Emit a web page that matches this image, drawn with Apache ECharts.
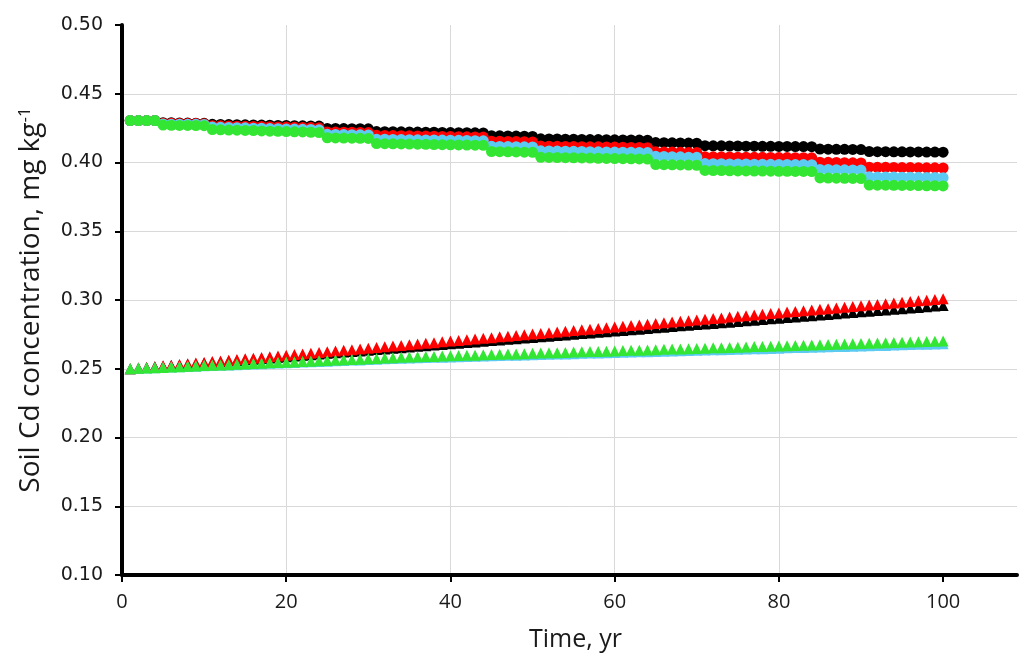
<!DOCTYPE html>
<html><head><meta charset="utf-8">
<script src="https://cdn.jsdelivr.net/npm/echarts@6/dist/echarts.min.js"></script>
<style>html,body{margin:0;padding:0;background:#fff}#c{width:1019px;height:657px}</style>
</head><body><div id="c"></div>
<script>
// Years 1..100
var years = [];
for (var i = 1; i <= 100; i++) years.push(i);

var yTicks = [0.10,0.15,0.20,0.25,0.30,0.35,0.40,0.45,0.50];
var xTicks = [0,20,40,60,80,100];

// Circle series
var blackCircle = [0.4305,0.4305,0.4305,0.4305,
0.4290,0.4289,0.4288,0.4287,0.4286,0.4285,
0.4278,0.4277,0.4276,0.4275,0.4274,0.4273,0.4272,0.4271,0.4270,0.4269,0.4268,0.4267,0.4266,0.4265,
0.4248,0.4248,0.4247,0.4246,0.4246,0.4245,
0.4225,0.4224,0.4224,0.4223,0.4222,0.4221,0.4220,0.4220,0.4219,0.4218,0.4217,0.4217,0.4216,0.4215,
0.4195,0.4194,0.4193,0.4192,0.4191,0.4190,
0.4172,0.4171,0.4171,0.4170,0.4169,0.4168,0.4167,0.4167,0.4166,0.4165,0.4164,0.4164,0.4163,0.4162,
0.4145,0.4144,0.4143,0.4142,0.4141,0.4140,
0.4122,0.4121,0.4121,0.4120,0.4120,0.4119,0.4119,0.4118,0.4118,0.4117,0.4117,0.4116,0.4116,0.4115,
0.4098,0.4097,0.4096,0.4096,0.4095,0.4094,
0.4080,0.4079,0.4079,0.4078,0.4078,0.4077,0.4077,0.4076,0.4076,0.4075];

var redCircle = [0.4305,0.4305,0.4305,0.4305,
0.4285,0.4285,0.4284,0.4283,0.4283,0.4282,
0.4268,0.4267,0.4266,0.4264,0.4263,0.4262,0.4261,0.4260,0.4259,0.4258,0.4256,0.4255,0.4254,0.4252,
0.4222,0.4221,0.4220,0.4220,0.4219,0.4218,
0.4198,0.4197,0.4196,0.4195,0.4194,0.4193,0.4192,0.4191,0.4190,0.4189,0.4188,0.4187,0.4186,0.4185,
0.4155,0.4154,0.4153,0.4152,0.4151,0.4150,
0.4120,0.4119,0.4118,0.4117,0.4116,0.4115,0.4114,0.4114,0.4113,0.4112,0.4111,0.4110,0.4109,0.4108,
0.4078,0.4077,0.4076,0.4074,0.4073,0.4072,
0.4042,0.4041,0.4041,0.4040,0.4039,0.4039,0.4038,0.4038,0.4037,0.4036,0.4036,0.4035,0.4035,0.4034,
0.4002,0.4001,0.4000,0.3999,0.3998,0.3997,
0.3966,0.3965,0.3965,0.3964,0.3963,0.3963,0.3962,0.3961,0.3961,0.3960];

var cyanCircle = [0.4305,0.4305,0.4305,0.4305,
0.4280,0.4279,0.4279,0.4278,0.4278,0.4277,
0.4258,0.4256,0.4255,0.4253,0.4252,0.4250,0.4249,0.4247,0.4246,0.4244,0.4243,0.4241,0.4240,0.4238,
0.4205,0.4204,0.4203,0.4202,0.4201,0.4200,
0.4170,0.4169,0.4168,0.4167,0.4166,0.4165,0.4164,0.4164,0.4163,0.4162,0.4161,0.4160,0.4159,0.4158,
0.4118,0.4117,0.4116,0.4115,0.4114,0.4113,
0.4085,0.4084,0.4083,0.4082,0.4081,0.4080,0.4079,0.4078,0.4077,0.4076,0.4075,0.4074,0.4073,0.4072,
0.4045,0.4044,0.4042,0.4041,0.4039,0.4038,
0.3992,0.3991,0.3991,0.3990,0.3989,0.3989,0.3988,0.3988,0.3987,0.3986,0.3986,0.3985,0.3985,0.3984,
0.3950,0.3949,0.3948,0.3947,0.3946,0.3945,
0.3896,0.3895,0.3895,0.3894,0.3893,0.3893,0.3892,0.3891,0.3891,0.3890];

var greenCircle = [0.4305,0.4305,0.4305,0.4305,
0.4272,0.4271,0.4270,0.4270,0.4269,0.4268,
0.4240,0.4238,0.4236,0.4235,0.4233,0.4232,0.4230,0.4228,0.4227,0.4225,0.4223,0.4222,0.4220,0.4218,
0.4180,0.4179,0.4178,0.4177,0.4176,0.4175,
0.4138,0.4137,0.4136,0.4135,0.4134,0.4133,0.4132,0.4131,0.4130,0.4129,0.4128,0.4127,0.4126,0.4125,
0.4080,0.4079,0.4078,0.4077,0.4075,0.4074,
0.4038,0.4037,0.4036,0.4035,0.4034,0.4033,0.4032,0.4031,0.4030,0.4029,0.4028,0.4027,0.4026,0.4025,
0.3985,0.3984,0.3983,0.3982,0.3981,0.3980,
0.3942,0.3941,0.3941,0.3940,0.3939,0.3939,0.3938,0.3938,0.3937,0.3936,0.3936,0.3935,0.3935,0.3934,
0.3888,0.3887,0.3886,0.3885,0.3884,0.3883,
0.3836,0.3835,0.3835,0.3834,0.3833,0.3833,0.3832,0.3831,0.3831,0.3830];

// Triangle series
var blackTri = [0.2500,0.2505,0.2509,0.2514,0.2519,0.2523,0.2528,0.2533,0.2537,0.2542,
0.2547,0.2551,0.2556,0.2560,0.2565,0.2570,0.2574,0.2579,0.2584,0.2588,
0.2593,0.2598,0.2602,0.2607,0.2612,0.2616,0.2621,0.2626,0.2630,0.2635,
0.2640,0.2644,0.2649,0.2653,0.2658,0.2663,0.2667,0.2672,0.2677,0.2681,
0.2686,0.2691,0.2695,0.2700,0.2705,0.2709,0.2714,0.2719,0.2723,0.2728,
0.2733,0.2737,0.2742,0.2746,0.2751,0.2756,0.2760,0.2765,0.2770,0.2774,
0.2779,0.2784,0.2788,0.2793,0.2798,0.2802,0.2807,0.2812,0.2816,0.2821,
0.2826,0.2830,0.2835,0.2839,0.2844,0.2849,0.2853,0.2858,0.2863,0.2867,
0.2872,0.2877,0.2881,0.2886,0.2891,0.2895,0.2900,0.2905,0.2909,0.2914,
0.2919,0.2923,0.2928,0.2932,0.2937,0.2942,0.2946,0.2951,0.2956,0.2960];

var redTri = [0.2500,0.2505,0.2510,0.2515,0.2521,0.2526,0.2531,0.2536,0.2541,0.2546,
0.2552,0.2557,0.2562,0.2567,0.2572,0.2577,0.2582,0.2588,0.2593,0.2598,
0.2603,0.2608,0.2613,0.2618,0.2624,0.2629,0.2634,0.2639,0.2644,0.2649,
0.2654,0.2660,0.2665,0.2670,0.2675,0.2680,0.2685,0.2690,0.2696,0.2701,
0.2706,0.2711,0.2716,0.2721,0.2726,0.2732,0.2737,0.2742,0.2747,0.2752,
0.2757,0.2762,0.2768,0.2773,0.2778,0.2783,0.2788,0.2793,0.2798,0.2804,
0.2809,0.2814,0.2819,0.2824,0.2829,0.2834,0.2840,0.2845,0.2850,0.2855,
0.2860,0.2865,0.2870,0.2876,0.2881,0.2886,0.2891,0.2896,0.2901,0.2906,
0.2912,0.2917,0.2922,0.2927,0.2932,0.2937,0.2942,0.2948,0.2953,0.2958,
0.2963,0.2968,0.2973,0.2978,0.2984,0.2989,0.2994,0.2999,0.3004,0.3009];

var cyanTri = [0.2500,0.2503,0.2505,0.2507,0.2509,0.2512,0.2514,0.2517,0.2518,0.2521,
0.2523,0.2526,0.2528,0.2530,0.2532,0.2535,0.2537,0.2540,0.2541,0.2544,
0.2546,0.2549,0.2551,0.2553,0.2555,0.2558,0.2560,0.2563,0.2564,0.2567,
0.2569,0.2572,0.2574,0.2576,0.2578,0.2580,0.2582,0.2583,0.2584,0.2586,
0.2588,0.2590,0.2591,0.2592,0.2594,0.2596,0.2598,0.2599,0.2600,0.2602,
0.2604,0.2606,0.2607,0.2608,0.2610,0.2612,0.2614,0.2615,0.2616,0.2618,
0.2620,0.2622,0.2623,0.2624,0.2626,0.2628,0.2630,0.2631,0.2632,0.2634,
0.2636,0.2638,0.2638,0.2640,0.2642,0.2644,0.2646,0.2646,0.2648,0.2650,
0.2652,0.2654,0.2654,0.2656,0.2658,0.2660,0.2662,0.2662,0.2664,0.2666,
0.2668,0.2670,0.2670,0.2672,0.2674,0.2676,0.2678,0.2678,0.2680,0.2682];

var greenTri = [0.2500,0.2503,0.2505,0.2508,0.2510,0.2513,0.2515,0.2518,0.2520,0.2523,
0.2525,0.2528,0.2530,0.2533,0.2535,0.2538,0.2540,0.2543,0.2545,0.2548,
0.2550,0.2553,0.2555,0.2558,0.2560,0.2563,0.2565,0.2568,0.2570,0.2573,
0.2575,0.2578,0.2580,0.2583,0.2585,0.2587,0.2589,0.2590,0.2592,0.2594,
0.2596,0.2598,0.2599,0.2601,0.2603,0.2605,0.2607,0.2608,0.2610,0.2612,
0.2614,0.2616,0.2617,0.2619,0.2621,0.2623,0.2625,0.2626,0.2628,0.2630,
0.2632,0.2634,0.2635,0.2637,0.2639,0.2641,0.2643,0.2644,0.2646,0.2648,
0.2650,0.2652,0.2653,0.2655,0.2657,0.2659,0.2661,0.2662,0.2664,0.2666,
0.2668,0.2670,0.2671,0.2673,0.2675,0.2677,0.2679,0.2680,0.2682,0.2684,
0.2686,0.2688,0.2689,0.2691,0.2693,0.2695,0.2697,0.2698,0.2700,0.2702];

var BLACK = '#000000', RED = '#ff0000', CYAN = '#5ccbf2', GREEN = '#33e633';

function pairs(vals) { return years.map(function (y, i) { return [y, vals[i]]; }); }
function sc(name, vals, color, symbol, size) {
  return { name: name, type: 'scatter', data: pairs(vals), symbol: symbol, symbolSize: size,
    itemStyle: { color: color, opacity: 1 }, silent: true, animation: false };
}

var chart = echarts.init(document.getElementById('c'), null, { renderer: 'canvas' });
var FONT = 'Open Sans';
chart.setOption({
  backgroundColor: '#ffffff',
  animation: false,
  grid: { left: 122, right: 2, top: 25, bottom: 82 },
  xAxis: {
    type: 'value', min: 0, max: 109, interval: 20,
    name: 'Time, yr', nameLocation: 'middle', nameGap: 52,
    nameTextStyle: { fontFamily: FONT, fontSize: 25, color: '#1a1a1a', padding: [0, 0, 0, 12] },
    axisLine: { show: true, onZero: false, lineStyle: { color: '#000', width: 4 } },
    axisTick: { show: true, length: 7, lineStyle: { color: '#000', width: 2 }, customValues: xTicks },
    axisLabel: { fontFamily: FONT, fontSize: 20, color: '#1a1a1a', margin: 17, customValues: xTicks },
    splitLine: { show: true, showMaxLine: false, lineStyle: { color: '#d9d9d9', width: 1 } }
  },
  yAxis: {
    type: 'value', min: 0.10, max: 0.50, interval: 0.05,
    name: 'Soil Cd concentration, mg kg{sup|-1}', nameLocation: 'middle', nameGap: 76,
    nameTextStyle: { fontFamily: FONT, fontSize: 28, color: '#1a1a1a',
      rich: { sup: { fontFamily: FONT, fontSize: 17, color: '#1a1a1a', verticalAlign: 'top', padding: [0, 0, 12, 0] } } },
    axisLine: { show: true, lineStyle: { color: '#000', width: 4 } },
    axisTick: { show: true, length: 7, lineStyle: { color: '#000', width: 2 } },
    axisLabel: { fontFamily: 'DejaVu Sans', fontSize: 19, color: '#1a1a1a', margin: 19,
      customValues: yTicks, formatter: function (v) { return v.toFixed(2); } },
    splitLine: { show: true, showMaxLine: false, lineStyle: { color: '#d9d9d9', width: 1 } }
  },
  series: [
    sc('black circle', blackCircle, BLACK, 'circle', 11),
    sc('red circle', redCircle, RED, 'circle', 11),
    sc('cyan circle', cyanCircle, CYAN, 'circle', 11),
    sc('green circle', greenCircle, GREEN, 'circle', 11),
    sc('black triangle', blackTri, BLACK, 'triangle', 11),
    sc('red triangle', redTri, RED, 'triangle', 11),
    sc('cyan triangle', cyanTri, CYAN, 'triangle', 11),
    sc('green triangle', greenTri, GREEN, 'triangle', 11)
  ]
});
</script></body></html>
